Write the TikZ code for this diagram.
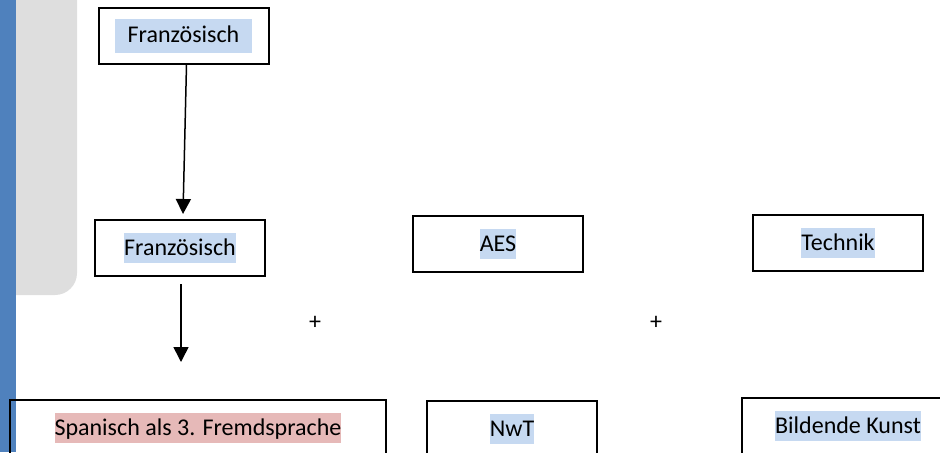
\documentclass[tikz,border=0pt]{standalone}
\usepackage{fontspec}
\setmainfont{Carlito}
\usetikzlibrary{arrows.meta}
\definecolor{barblue}{RGB}{79,129,189}
\definecolor{panelgray}{RGB}{222,222,222}
\definecolor{hlblue}{RGB}{198,217,241}
\definecolor{hlred}{RGB}{230,185,184}
\newcommand{\hlbox}[3][0pt]{{\setlength{\fboxsep}{0pt}\colorbox{#2}{\hspace{#1}\rule[-4pt]{0pt}{15pt}#3\hspace{#1}}}}
\begin{document}
\begin{tikzpicture}[x=0.5pt,y=-0.5pt,
		font=\fontsize{12}{14}\selectfont,
		fach/.style={draw=black,line width=1pt,minimum width=85pt,minimum height=28pt,inner sep=0pt},
		pfeil/.style={line width=0.75pt,-{Triangle[width=7.5pt,length=7.5pt]}}]
			\useasboundingbox (0,0) rectangle (940,452);
			
			\fill[panelgray,rounded corners=11pt] (-20,-40) rectangle (77,295);
			\fill[barblue] (0,0) rectangle (16,452);
			
			\node[fach] (frz1) at (183.5,35.5) {{\setlength{\fboxsep}{1pt}\colorbox{hlblue}{\hspace{5.5pt}\rule[-4pt]{0pt}{15pt}Französisch\hspace{5.5pt}}}};
			\node[fach] (frz2) at (180,248) {\hlbox{hlblue}{Französisch}};
			\node[fach] (aes) at (498,244) {\hlbox{hlblue}{AES}};
			\node[fach] (technik) at (838,243) {\hlbox{hlblue}{Technik}};
			
			\node[fach,minimum width=188pt] (spanisch) at (198,428) {\hlbox{hlred}{Spanisch als 3. Fremdsprache}};
			\node[fach] (nwt) at (512,429) {\hlbox{hlblue}{NwT}};
			\node[fach,minimum width=106pt] (kunst) at (848,426) {\hlbox{hlblue}{Bildende Kunst}};
			
			\node (plusA) at (315,323) {+};
			\node (plusB) at (656,323) {+};
			
			\coordinate (ende) at (181,362);
			\draw[pfeil] ([xshift=1.5pt]frz1.south) -- ([xshift=1.5pt,yshift=2.5pt]frz2.north);
			\draw[pfeil] ([yshift=-3.5pt,xshift=0.5pt]frz2.south) -- (ende);
\end{tikzpicture}
\end{document}
